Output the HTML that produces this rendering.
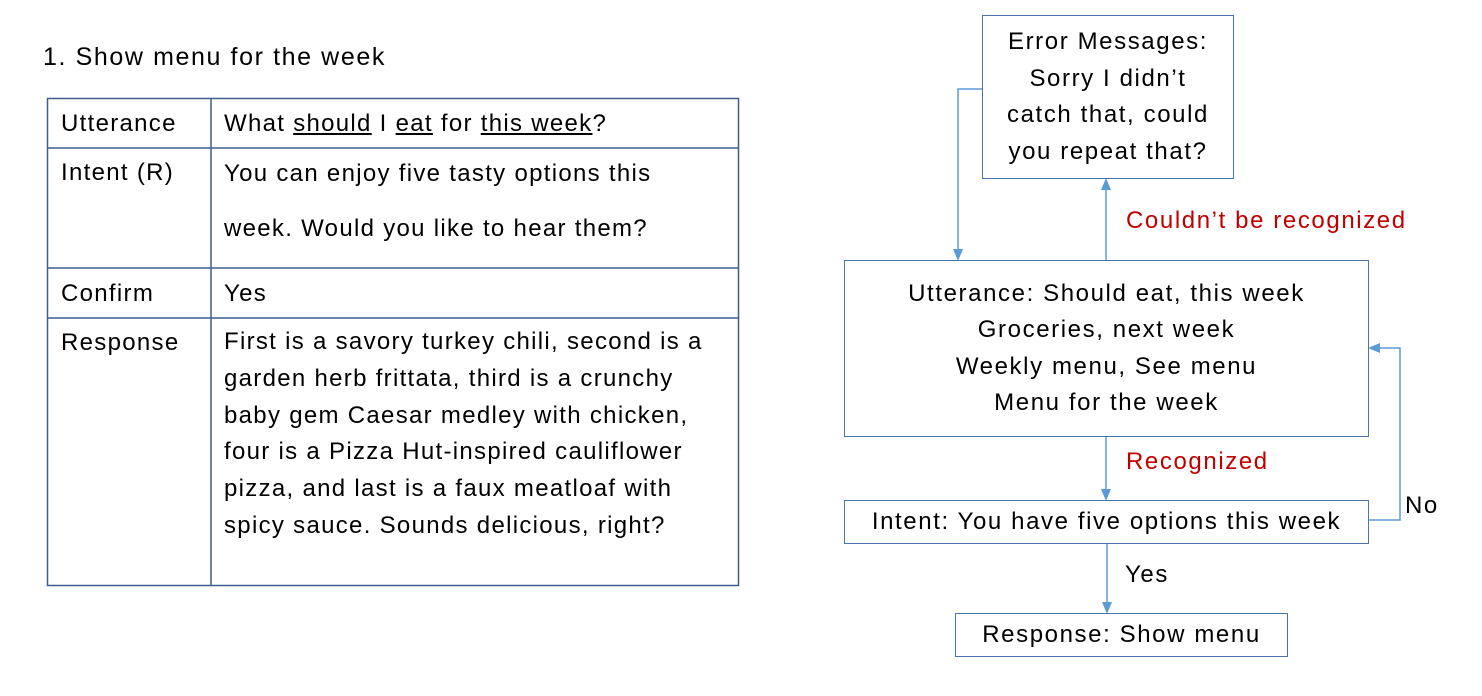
<!DOCTYPE html>
<html><head><meta charset="utf-8"><style>
body{margin:0;width:1482px;height:696px;background:#fff;position:relative;font-family:"Liberation Sans",sans-serif;color:#000;overflow:hidden}
.t{position:absolute;font-size:24px;white-space:nowrap;letter-spacing:1.3px}
.box{position:absolute;border:1.5px solid #4a73a8;box-sizing:border-box;text-align:center;font-size:24px;letter-spacing:1.6px;display:flex;flex-direction:column;justify-content:center;line-height:36.5px;white-space:nowrap}
.f{letter-spacing:1.6px}
.red{color:#c00000}
u{text-decoration:underline}
</style></head><body>
<div class="t" style="left:43px;top:43px;font-size:25px;letter-spacing:1.6px">1. Show menu for the week</div>
<svg style="position:absolute;left:0;top:0" width="1482" height="696">
<g stroke="#3c5f8e" stroke-width="1.5" fill="none">
<rect x="47.5" y="98.5" width="691" height="487"/>
<line x1="211" y1="98" x2="211" y2="586"/>
<line x1="47" y1="148" x2="739" y2="148"/>
<line x1="47" y1="268" x2="739" y2="268"/>
<line x1="47" y1="318" x2="739" y2="318"/>
</g>
<g stroke="#5b9bd5" stroke-width="1.5" fill="none">
<polyline points="982,89 958,89 958,252"/>
<line x1="1106" y1="260" x2="1106" y2="186"/>
<line x1="1106" y1="436" x2="1106" y2="492"/>
<polyline points="1368,520 1400,520 1400,348 1376,348"/>
<line x1="1107" y1="543" x2="1107" y2="605"/>
</g>
<g fill="#5b9bd5">
<polygon points="953,249 963,249 958,261"/>
<polygon points="1101,190 1111,190 1106,178"/>
<polygon points="1101,489 1111,489 1106,501"/>
<polygon points="1380,343 1380,353 1368,348"/>
<polygon points="1102,602 1112,602 1107,614"/>
</g>
</svg>
<div class="t" style="left:61px;top:110px">Utterance</div>
<div class="t" style="left:224px;top:110px">What <u>should</u> I <u>eat</u> for <u>this week</u>?</div>
<div class="t" style="left:61px;top:159px">Intent (R)</div>
<div class="t" style="left:224px;line-height:55px;top:146px">You can enjoy five tasty options this<br>week. Would you like to hear them?</div>
<div class="t" style="left:61px;top:280px">Confirm</div>
<div class="t" style="left:224px;top:280px">Yes</div>
<div class="t" style="left:61px;top:329px">Response</div>
<div class="t" style="left:224px;top:324px;line-height:36.8px">First is a savory turkey chili, second is a<br>garden herb frittata, third is a crunchy<br>baby gem Caesar medley with chicken,<br>four is a Pizza Hut-inspired cauliflower<br>pizza, and last is a faux meatloaf with<br>spicy sauce. Sounds delicious, right?</div>

<div class="box" style="left:982px;top:15px;width:252px;height:164px">Error Messages:<br>Sorry I didn’t<br>catch that, could<br>you repeat that?</div>
<div class="box" style="left:844px;top:260px;width:525px;height:177px">Utterance: Should eat, this week<br>Groceries, next week<br>Weekly menu, See menu<br>Menu for the week</div>
<div class="box" style="left:844px;top:500px;width:525px;height:44px">Intent: You have five options this week</div>
<div class="box" style="left:955px;top:613px;width:333px;height:44px">Response: Show menu</div>
<div class="t red f" style="left:1126px;top:207px">Couldn’t be recognized</div>
<div class="t red f" style="left:1126px;top:448px">Recognized</div>
<div class="t f" style="left:1405px;top:492px">No</div>
<div class="t f" style="left:1125px;top:561px">Yes</div>
</body></html>
